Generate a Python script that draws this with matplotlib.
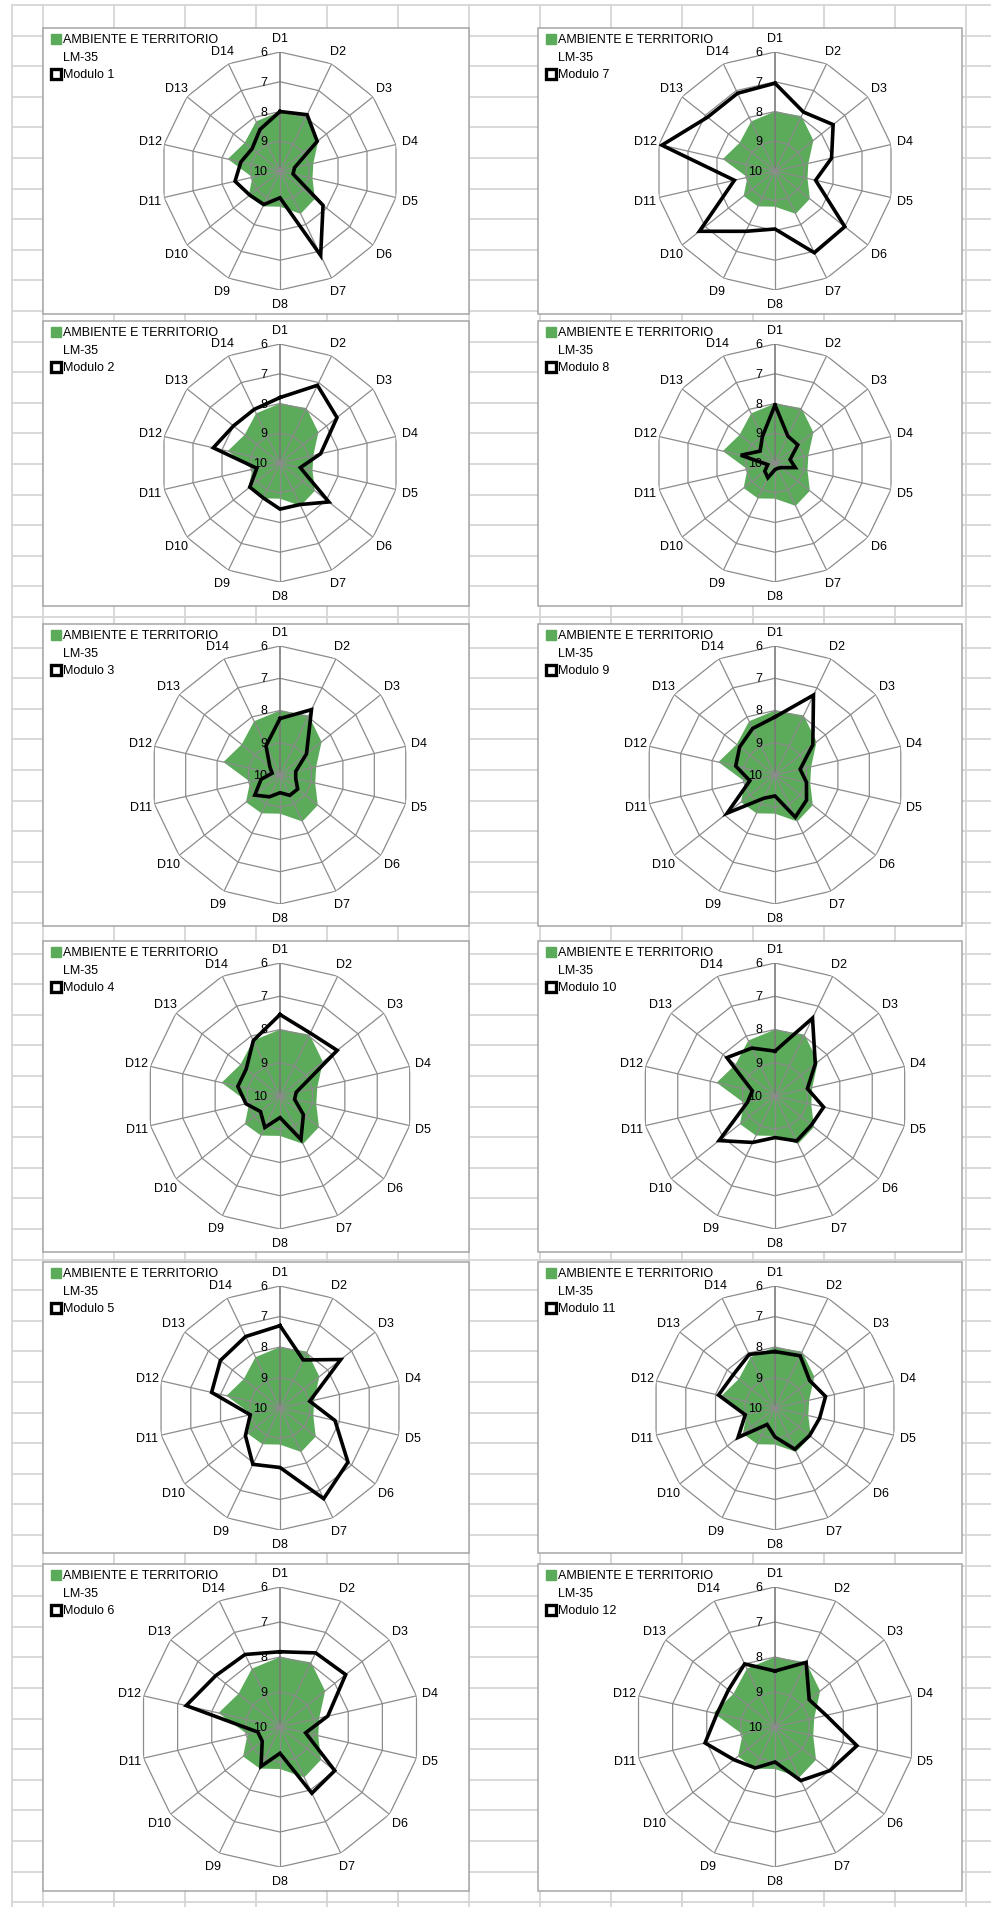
import matplotlib.pyplot as plt
import numpy as np
from matplotlib.patches import Rectangle
from matplotlib.transforms import offset_copy

plt.rcParams['font.family'] = ['Liberation Sans', 'DejaVu Sans']

# categories and scale (radar axis reversed: 10 at centre, 6 at the rim)
categories = ['D1', 'D2', 'D3', 'D4', 'D5', 'D6', 'D7',
              'D8', 'D9', 'D10', 'D11', 'D12', 'D13', 'D14']
scale_ticks = [6, 7, 8, 9, 10]

ref_name = 'AMBIENTE E TERRITORIO'
ref_sub = 'LM-35'
ambiente = [8.0, 7.95, 8.35, 8.85, 8.88, 8.5, 8.4, 8.8, 8.68, 8.65, 9.05, 8.2, 8.48, 8.15]

modulo_1 = [8.0, 7.9, 8.4, 9.5, 9.55, 8.15, 6.85, 9.1, 8.75, 8.7, 8.45, 8.65, 8.8, 8.45]
modulo_2 = [7.8, 7.1, 7.55, 8.6, 9.3, 7.9, 8.45, 8.45, 8.7, 8.7, 9.2, 7.7, 8.0, 8.0]
modulo_3 = [8.25, 7.75, 8.95, 9.5, 9.5, 9.3, 9.3, 9.45, 9.25, 9.0, 9.4, 9.75, 9.6, 9.0]
modulo_4 = [7.55, 7.9, 7.8, 9.5, 9.55, 9.1, 8.55, 9.35, 8.95, 9.25, 8.95, 8.7, 8.7, 8.15]
modulo_5 = [7.3, 8.25, 7.45, 9.0, 8.15, 7.15, 6.7, 8.05, 7.95, 8.55, 9.0, 7.7, 7.5, 7.4]
modulo_6 = [7.85, 7.65, 7.6, 8.6, 9.25, 8.0, 7.9, 9.25, 8.75, 9.35, 9.35, 7.25, 7.65, 7.7]
modulo_7 = [7.05, 7.8, 7.5, 8.05, 8.6, 7.0, 6.95, 8.05, 7.75, 6.75, 8.6, 6.1, 7.1, 7.1]
modulo_8 = [8.05, 9.0, 9.02, 9.48, 9.3, 9.75, 9.8, 9.78, 9.45, 9.56, 9.75, 8.82, 9.36, 9.02]
modulo_9 = [8.2, 7.25, 8.5, 9.2, 9.0, 8.75, 8.55, 9.35, 9.2, 8.1, 9.2, 8.75, 8.6, 8.4]
modulo_10 = [8.65, 7.4, 8.45, 9.0, 8.5, 8.6, 8.5, 8.75, 8.45, 7.85, 9.15, 9.3, 8.15, 8.4]
modulo_11 = [8.15, 8.1, 8.55, 8.3, 8.5, 8.55, 8.5, 9.05, 9.4, 8.45, 9.0, 8.1, 8.25, 8.05]
modulo_12 = [8.4, 7.95, 8.75, 8.5, 7.6, 8.0, 8.3, 9.0, 8.7, 8.5, 7.95, 8.3, 8.3, 8.0]

modules = [modulo_1, modulo_2, modulo_3, modulo_4, modulo_5, modulo_6,
           modulo_7, modulo_8, modulo_9, modulo_10, modulo_11, modulo_12]
module_names = ['Modulo %d' % (i + 1) for i in range(12)]

# page layout in pixels
W, H = 991, 1908
rows = [(29, 315, 172, 119), (322, 607, 464, 119), (625, 927, 776, 129),
        (942, 1253, 1097, 133), (1263, 1554, 1409, 122), (1565, 1892, 1728, 140)]
cols = [(43, 469, 280), (538, 962, 775)]

green = '#5bab5b'
grid_gray = '#8c8c8c'
fs = 9

fig = plt.figure(figsize=(W / 100, H / 100), dpi=100)
fig.patch.set_facecolor('white')

# spreadsheet background
bg = fig.add_axes([0, 0, 1, 1])
bg.set_xlim(0, W)
bg.set_ylim(H, 0)
bg.set_axis_off()
xs = [12, 43] + list(range(114, W, 71))
for x in xs:
    bg.plot([x, x], [6, H], color='#d6d6d6', lw=1.3, zorder=0)
for y in np.arange(6, H, 30.6):
    bg.plot([12, W], [y, y], color='#d6d6d6', lw=1.3, zorder=0)

n = len(categories)
theta = np.arange(n) * 2 * np.pi / n
theta_c = np.append(theta, theta[0])

for k, vals in enumerate(modules):
    c = k // 6
    r = k % 6
    x0, x1, cx = cols[c]
    y0, y1, cy, R = rows[r]

    bg.add_patch(Rectangle((x0, y0), x1 - x0, y1 - y0, facecolor='white',
                           edgecolor='#a6a6a6', lw=1.1, zorder=1))

    # legend
    bg.plot([x0 + 13], [y0 + 11], marker='s', ms=7, color=green, mec=green, zorder=3)
    bg.text(x0 + 20, y0 + 11, ref_name, fontsize=fs, va='center', ha='left', zorder=3)
    bg.text(x0 + 20, y0 + 29, ref_sub, fontsize=fs, va='center', ha='left', zorder=3)
    bg.plot([x0 + 13], [y0 + 46], marker='s', ms=6.5, mfc='white', mec='black',
            mew=2.4, zorder=3)
    bg.text(x0 + 20, y0 + 46, module_names[k], fontsize=fs, va='center', ha='left', zorder=3)

    ax = fig.add_axes([(cx - R) / W, 1 - (cy + R) / H, 2 * R / W, 2 * R / H],
                      projection='polar')
    ax.set_theta_zero_location('N')
    ax.set_theta_direction(-1)
    ax.set_ylim(0, 4)
    ax.set_axis_off()

    ref_r = 10 - np.array(ambiente + ambiente[:1])
    ax.fill(theta_c, ref_r, color=green, lw=0, zorder=1)

    for v in scale_ticks[:-1]:
        ax.plot(theta_c, [10 - v] * (n + 1), color=grid_gray, lw=0.9, zorder=2)
    for i, t in enumerate(theta):
        ax.plot([t, t], [0, 4], color='#7a7a7a' if i == 0 else grid_gray,
                lw=1.2 if i == 0 else 0.9, zorder=2)

    mod_r = 10 - np.array(vals + vals[:1])
    ax.plot(theta_c, mod_r, color='black', lw=2.6, zorder=3, solid_joinstyle='miter')

    tick_tr = offset_copy(ax.transData, fig=fig, x=-13, y=0, units='dots')
    for v in scale_ticks:
        ax.text(0, 10 - v, str(v), transform=tick_tr, fontsize=fs,
                ha='right', va='center', zorder=4)

    lab_r = 4 * (R + 14) / R
    for t, lab in zip(theta, categories):
        ax.text(t, lab_r, lab, fontsize=fs, ha='center', va='center', clip_on=False)

fig.savefig('out.png', dpi=100, facecolor='white')
